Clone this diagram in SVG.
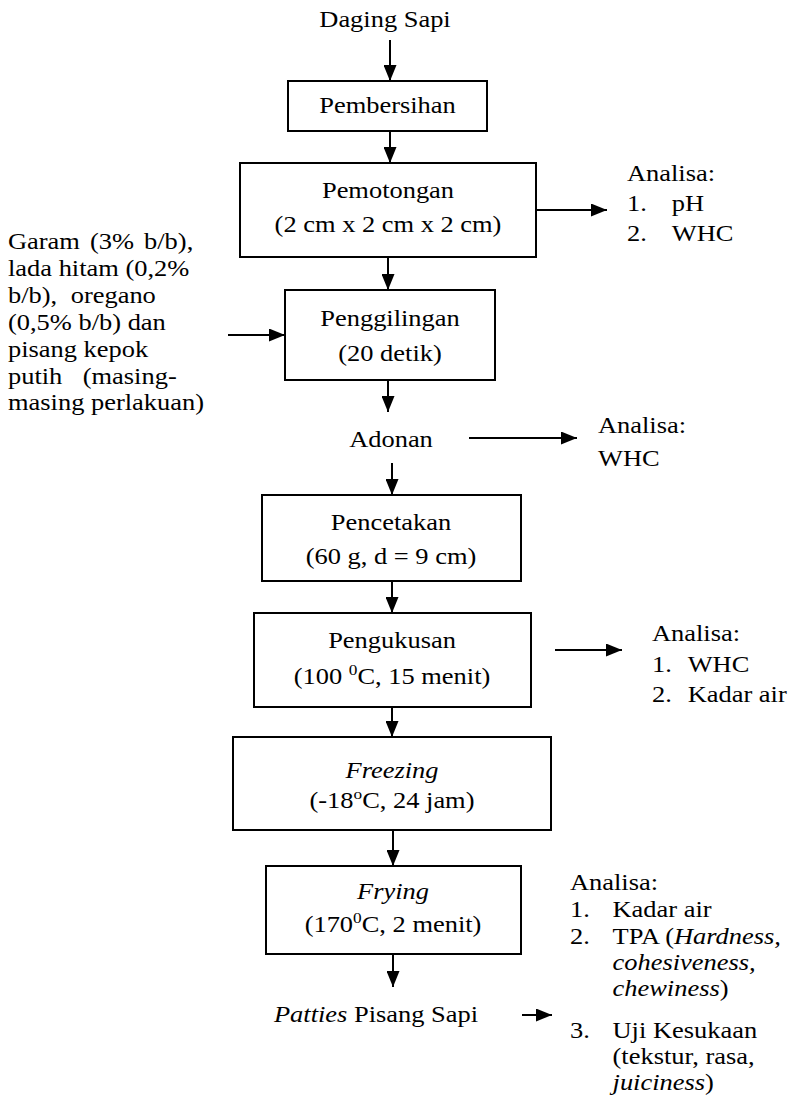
<svg xmlns="http://www.w3.org/2000/svg" width="808" height="1110" viewBox="0 0 808 1110" font-family="'Liberation Serif', 'DejaVu Serif', serif">
<style>
text{font-family:'Liberation Serif','DejaVu Serif',serif;font-size:23px;fill:#000}
.c{text-anchor:middle}
.box{fill:#fff;stroke:#000;stroke-width:2}
.ln{stroke:#000;stroke-width:2;fill:none;marker-end:url(#ah)}
.i{font-style:italic}
</style>
<defs>
<marker id="ah" markerUnits="userSpaceOnUse" markerWidth="16" markerHeight="13" refX="16" refY="6.5" orient="auto">
<path d="M0,0 L16,6.5 L0,13 z" fill="#000"/>
</marker>
</defs>
<rect width="808" height="1110" fill="#fff"/>
<g id="connectors">
<line class="ln" x1="390" y1="40" x2="390" y2="81"/>
<line class="ln" x1="390" y1="131" x2="390" y2="163"/>
<line class="ln" x1="536" y1="210" x2="607" y2="210"/>
<line class="ln" x1="388" y1="257" x2="388" y2="290"/>
<line class="ln" x1="228" y1="335" x2="285" y2="335"/>
<line class="ln" x1="388" y1="380" x2="388" y2="412"/>
<line class="ln" x1="469" y1="438" x2="577" y2="438"/>
<line class="ln" x1="392" y1="463" x2="392" y2="495"/>
<line class="ln" x1="392" y1="581" x2="392" y2="613"/>
<line class="ln" x1="555" y1="650" x2="622" y2="650"/>
<line class="ln" x1="392" y1="707" x2="392" y2="737"/>
<line class="ln" x1="393" y1="830" x2="393" y2="866"/>
<line class="ln" x1="393" y1="954" x2="393" y2="987"/>
<line class="ln" x1="522" y1="1015" x2="552" y2="1015"/>
</g>
<g id="daging"><text class="c" transform="translate(385,27) scale(1.15,1)">Daging Sapi</text></g>
<g id="pembersihan"><rect class="box" x="288" y="81" width="199" height="50"/>
<text class="c" transform="translate(387.5,113) scale(1.15,1)">Pembersihan</text></g>
<g id="pemotongan"><rect class="box" x="240" y="163" width="296" height="94"/>
<text class="c" transform="translate(388,198) scale(1.15,1)">Pemotongan</text>
<text class="c" transform="translate(388,232) scale(1.15,1)">(2 cm x 2 cm x 2 cm)</text></g>
<g id="analisa1" transform="translate(627,0) scale(1.15,1)"><text><tspan x="0" y="181">Analisa:</tspan><tspan x="0" y="211">1.</tspan><tspan x="39" y="211">pH</tspan><tspan x="0" y="241">2.</tspan><tspan x="39" y="241">WHC</tspan></text></g>
<g id="bahan" transform="translate(8,0) scale(1.15,1)">
<text x="0" y="249" word-spacing="3">Garam (3% b/b),</text>
<text x="0" y="276">lada hitam (0,2%</text>
<text x="0" y="303" word-spacing="6">b/b), oregano</text>
<text x="0" y="330">(0,5% b/b) dan</text>
<text x="0" y="357">pisang kepok</text>
<text x="0" y="384" word-spacing="12">putih (masing-</text>
<text x="0" y="410">masing perlakuan)</text>
</g>
<g id="penggilingan"><rect class="box" x="285" y="290" width="210" height="90"/>
<text class="c" transform="translate(390,326) scale(1.15,1)">Penggilingan</text>
<text class="c" transform="translate(390,361) scale(1.15,1)">(20 detik)</text></g>
<g id="adonan"><text class="c" transform="translate(391,447) scale(1.15,1)">Adonan</text></g>
<g id="analisa2" transform="translate(598,0) scale(1.15,1)"><text><tspan x="0" y="433">Analisa:</tspan><tspan x="0" y="466">WHC</tspan></text></g>
<g id="pencetakan"><rect class="box" x="262" y="495" width="259" height="86"/>
<text class="c" transform="translate(391,530) scale(1.15,1)">Pencetakan</text>
<text class="c" transform="translate(391,564) scale(1.15,1)">(60 g, d = 9 cm)</text></g>
<g id="pengukusan"><rect class="box" x="254" y="613" width="277" height="94"/>
<text class="c" transform="translate(392,648) scale(1.15,1)">Pengukusan</text>
<text class="c" transform="translate(392,684) scale(1.15,1)">(100 <tspan font-size="15" dy="-9">0</tspan><tspan dy="9">C, 15 menit)</tspan></text></g>
<g id="analisa3" transform="translate(652,0) scale(1.15,1)"><text><tspan x="0" y="641">Analisa:</tspan><tspan x="0" y="672">1.</tspan><tspan x="31" y="672">WHC</tspan><tspan x="0" y="702">2.</tspan><tspan x="31" y="702">Kadar air</tspan></text></g>
<g id="freezing"><rect class="box" x="233" y="737" width="318" height="93"/>
<text class="c i" transform="translate(392,778) scale(1.15,1)">Freezing</text>
<text class="c" transform="translate(392,808) scale(1.15,1)">(-18<tspan font-size="15" dy="-9">o</tspan><tspan dy="9">C, 24 jam)</tspan></text></g>
<g id="frying"><rect class="box" x="266" y="866" width="255" height="88"/>
<text class="c i" transform="translate(393,899) scale(1.15,1)">Frying</text>
<text class="c" transform="translate(393,932) scale(1.15,1)">(170<tspan font-size="15" dy="-9">0</tspan><tspan dy="9">C, 2 menit)</tspan></text></g>
<g id="patties"><text class="c" transform="translate(376,1022) scale(1.15,1)"><tspan class="i">Patties</tspan> Pisang Sapi</text></g>
<g id="analisa4" transform="translate(570,0) scale(1.15,1)"><text><tspan x="0" y="890">Analisa:</tspan><tspan x="0" y="917">1.</tspan><tspan x="37" y="917">Kadar air</tspan><tspan x="0" y="944">2.</tspan><tspan x="37" y="944">TPA (</tspan><tspan class="i">Hardness,</tspan><tspan class="i" x="37" y="970">cohesiveness,</tspan><tspan class="i" x="37" y="996">chewiness</tspan><tspan>)</tspan><tspan x="0" y="1038">3.</tspan><tspan x="37" y="1038">Uji Kesukaan</tspan><tspan x="37" y="1064">(tekstur, rasa,</tspan><tspan class="i" x="37" y="1090">juiciness</tspan><tspan>)</tspan></text></g>
</svg>
